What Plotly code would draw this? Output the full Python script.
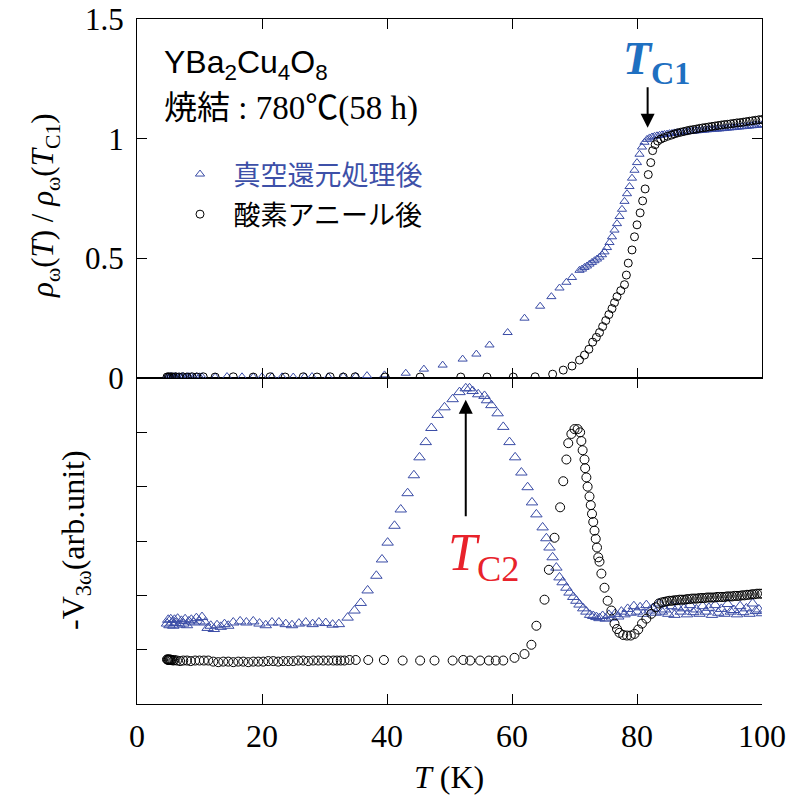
import plotly.graph_objects as go

# ---------------- data ----------------
# Top panel: rho_w(T)/rho_w(Tc1)
T_vac_top = [4.8, 5.0, 5.2, 5.4, 5.6, 5.8, 6.0, 6.2, 6.5, 6.8, 7.1, 7.4, 7.7, 8.0, 8.3, 8.7, 9.1, 9.5, 10.0,
             10.4, 12.5, 14.4, 16.8, 18.6, 20.0, 21.6, 23.2, 25.0, 26.8, 28.0, 30.6, 33.0, 35.0, 36.8,
             39.6, 43.0, 45.9, 48.9, 52.1, 54.3, 56.4, 59.3, 62.0, 64.5, 66.3, 67.6, 68.7, 69.6, 70.8,
             71.2, 71.6, 72.0, 72.4, 72.8, 73.2, 73.6, 74.0, 74.4, 74.8, 75.2, 75.6, 76.0, 76.4, 76.8,
             77.2, 77.6, 78.0, 78.4, 78.8, 79.2, 79.6, 80.0, 80.4, 80.8, 81.2, 81.6, 82.0, 82.4, 82.8,
             83.2, 83.6, 84.0, 84.4, 84.8, 85.2, 85.6, 86.0, 86.4, 86.8, 87.2, 87.6, 88.0, 88.4, 88.8,
             89.2, 89.6, 90.0, 90.4, 90.8, 91.2, 91.6, 92.0, 92.4, 92.8, 93.2, 93.6, 94.0, 94.4, 94.8,
             95.2, 95.6, 96.0, 96.4, 96.8, 97.2, 97.6, 98.0, 98.4, 98.8, 99.2, 99.6, 100.0]
R_vac_top = [0.004, 0.005, 0.004, 0.006, 0.005, 0.004, 0.005, 0.006, 0.004, 0.005, 0.005, 0.006, 0.004, 0.005,
             0.006, 0.005, 0.004, 0.006, 0.005,
             0.005, 0.004, 0.006, 0.005, 0.004, 0.005, 0.006, 0.005, 0.004, 0.005, 0.006, 0.005, 0.006, 0.007, 0.010,
             0.013, 0.020, 0.037, 0.054, 0.079, 0.100, 0.138, 0.190, 0.250, 0.300, 0.340, 0.376, 0.400, 0.420, 0.450,
             0.455, 0.462, 0.468, 0.476, 0.483, 0.490, 0.497, 0.505, 0.515, 0.527, 0.545, 0.566, 0.590, 0.618, 0.645,
             0.675, 0.705, 0.738, 0.770, 0.800, 0.835, 0.868, 0.900, 0.935, 0.965, 0.985, 0.997, 1.003, 1.007, 1.010,
             1.012, 1.014, 1.016, 1.018, 1.019, 1.021, 1.022, 1.024, 1.025, 1.026, 1.027, 1.028, 1.029, 1.030, 1.031,
             1.032, 1.033, 1.034, 1.035, 1.036, 1.037, 1.038, 1.039, 1.040, 1.040, 1.041, 1.042, 1.043, 1.044, 1.045,
             1.046, 1.047, 1.048, 1.049, 1.050, 1.051, 1.052, 1.053, 1.054, 1.055, 1.056, 1.057, 1.058]

T_oxy_top = [4.8, 5.0, 5.2, 5.5, 5.8, 6.2, 6.7, 7.3, 8.0, 8.8, 9.6, 10.6, 12.5, 15.4, 18.6, 21.3, 23.7, 26.6,
             28.8, 30.9, 33.0, 34.9, 39.7, 45.3, 51.8, 56.0, 60.2, 63.7, 66.5, 68.2, 69.6, 70.8, 71.6, 72.3,
             72.9, 73.5, 74.0, 74.5, 75.0, 75.5, 76.0, 76.4, 76.8, 77.4, 78.0, 78.3, 78.6, 79.2, 79.6, 80.0,
             80.5, 80.9, 81.3, 81.8, 82.2, 82.5, 82.9, 83.3, 83.8, 84.3, 84.9, 85.5, 86.0, 86.5, 87.0, 87.5,
             88.0, 88.5, 89.0, 89.5, 90.0, 90.5, 91.0, 91.5, 92.0, 92.5, 93.0, 93.5, 94.0, 94.5, 95.0, 95.5,
             96.0, 96.5, 97.0, 97.5, 98.0, 98.5, 99.0, 99.5, 100.0]
R_oxy_top = [0.004, 0.005, 0.004, 0.005, 0.004, 0.005, 0.004, 0.005, 0.004, 0.005, 0.004, 0.005, 0.004, 0.005,
             0.004, 0.005, 0.004, 0.005, 0.004, 0.005, 0.004, 0.005, 0.004, 0.004, 0.004, 0.004, 0.004, 0.005,
             0.016, 0.033, 0.050, 0.075, 0.096, 0.120, 0.150, 0.170, 0.190, 0.215, 0.240, 0.265, 0.290, 0.315,
             0.340, 0.365, 0.390, 0.430, 0.480, 0.535, 0.590, 0.640, 0.690, 0.740, 0.790, 0.850, 0.900, 0.950,
             0.975, 0.990, 0.998, 1.004, 1.010, 1.015, 1.020, 1.024, 1.027, 1.030, 1.033, 1.036, 1.038, 1.040,
             1.043, 1.045, 1.047, 1.049, 1.051, 1.053, 1.055, 1.057, 1.059, 1.060, 1.062, 1.064, 1.066, 1.067,
             1.069, 1.071, 1.073, 1.075, 1.077, 1.079, 1.080]

# Bottom panel: -V3w (arb. unit)
T_vac_bot = [4.8, 5.0, 5.2, 5.4, 5.6, 5.8, 6.0, 6.2, 6.5, 6.8, 7.1, 7.4, 7.7, 8.0, 8.3, 8.7, 9.1, 9.5, 10.0,
             10.4, 10.9, 11.3, 11.8, 12.3, 12.8, 13.4, 14.0, 14.6, 15.4, 16.5, 17.5, 18.6, 19.6, 20.6, 21.6,
             22.7, 23.8, 24.8, 25.9, 27.0, 28.1, 29.1, 30.2, 31.3, 32.3, 33.7, 34.8, 35.8, 36.9, 38.3, 39.2,
             40.1, 41.2, 42.2, 43.3, 44.3, 45.2, 46.2, 47.1, 48.1, 49.2, 50.5, 51.6, 52.6, 53.2, 53.7, 54.6,
             55.6, 56.0, 56.7, 57.7, 58.6, 59.6, 60.5, 61.5, 62.5, 63.2, 63.9, 64.9, 65.5, 66.0, 66.5, 67.1,
             67.6, 68.1, 68.7, 69.2, 69.8, 70.3, 70.8, 71.4, 71.9, 72.5, 73.0, 73.5, 74.0, 74.5, 75.0, 75.5,
             76.0, 76.5, 77.0, 77.5, 78.0, 78.5, 79.0, 79.5, 80.0, 80.5, 81.0, 81.5, 82.0, 82.5, 83.0, 83.5,
             84.0, 84.5, 85.0, 85.5, 86.0, 86.5, 87.0, 87.5, 88.0, 88.5, 89.0, 89.5, 90.0, 90.5, 91.0, 91.5,
             92.0, 92.5, 93.0, 93.5, 94.0, 94.5, 95.0, 95.5, 96.0, 96.5, 97.0, 97.5, 98.0, 98.5, 99.0, 99.5, 100.0]
V_vac_bot = [1.48, 1.55, 1.45, 1.56, 1.50, 1.44, 1.55, 1.49, 1.57, 1.46, 1.53, 1.48, 1.56, 1.45, 1.52, 1.55,
             1.50, 1.58, 1.52, 1.60, 1.50, 1.40, 1.44, 1.38, 1.45, 1.42, 1.47, 1.44, 1.50, 1.52, 1.50, 1.52,
             1.48, 1.45, 1.50, 1.50, 1.47, 1.45, 1.48, 1.50, 1.47, 1.50, 1.49, 1.46, 1.47, 1.59, 1.72, 1.86,
             2.09, 2.36, 2.66, 2.97, 3.28, 3.58, 3.88, 4.21, 4.54, 4.82, 5.08, 5.32, 5.46, 5.61, 5.74, 5.81,
             5.81, 5.76, 5.70, 5.67, 5.59, 5.50, 5.35, 5.10, 4.82, 4.54, 4.26, 3.99, 3.71, 3.49, 3.25, 3.05,
             2.88, 2.70, 2.51, 2.33, 2.24, 2.14, 2.05, 1.97, 1.90, 1.83, 1.76, 1.70, 1.64, 1.62, 1.60, 1.58,
             1.62, 1.57, 1.64, 1.59, 1.66, 1.61, 1.70, 1.65, 1.75, 1.68, 1.80, 1.70, 1.78, 1.66, 1.82, 1.72,
             1.76, 1.68, 1.85, 1.70, 1.74, 1.66, 1.80, 1.64, 1.78, 1.70, 1.76, 1.65, 1.82, 1.69, 1.74, 1.66,
             1.80, 1.70, 1.77, 1.64, 1.82, 1.68, 1.75, 1.66, 1.84, 1.70, 1.73, 1.65, 1.80, 1.69, 1.76, 1.66,
             1.85, 1.71, 1.74, 1.67]

T_oxy_bot = [4.8, 4.9, 5.0, 5.1, 5.2, 5.3, 5.4, 5.6, 5.8, 6.0, 6.4, 6.9, 7.4, 8.0, 8.6, 9.3, 10.0, 10.7, 11.4,
             12.2, 13.0, 13.8, 14.6, 15.4, 16.2, 17.0, 17.8, 18.6, 19.4, 20.2, 21.0, 21.8, 22.6, 23.4, 24.2,
             25.0, 25.8, 26.6, 27.4, 28.2, 29.0, 29.8, 30.6, 31.4, 32.0, 32.6, 33.2, 34.0, 35.0, 37.0, 39.5,
             42.5, 45.3, 47.6, 50.5, 52.2, 53.3, 54.9, 56.3, 57.4, 58.6, 60.4, 62.0, 63.1, 63.9, 65.2, 65.9,
             66.8, 67.7, 68.2, 68.7, 69.0, 69.5, 70.0, 70.5, 70.9, 71.1, 71.3, 71.6, 71.7, 71.9, 72.1, 72.4,
             72.6, 72.8, 73.0, 73.2, 73.4, 73.6, 73.8, 74.0, 74.3, 74.8, 75.3, 75.9, 76.4, 76.8, 77.2, 77.8,
             78.4, 79.0, 79.6, 80.2, 80.8, 81.5, 82.3, 83.0, 83.5, 84.0, 84.4, 84.8, 85.2, 85.6, 86.0, 86.4,
             86.8, 87.2, 87.6, 88.0, 88.4, 88.8, 89.2, 89.6, 90.0, 90.4, 90.8, 91.2, 91.6, 92.0, 92.4, 92.8,
             93.2, 93.6, 94.0, 94.4, 94.8, 95.2, 95.6, 96.0, 96.4, 96.8, 97.2, 97.6, 98.0, 98.4, 98.8, 99.2,
             99.6, 100.0]
V_oxy_bot = [0.82, 0.82, 0.81, 0.82, 0.81, 0.82, 0.81, 0.81, 0.80, 0.81, 0.80, 0.79, 0.80, 0.80, 0.79, 0.80,
             0.80, 0.80, 0.80, 0.78, 0.77, 0.78, 0.78, 0.77, 0.78, 0.78, 0.77, 0.78, 0.78, 0.78, 0.79, 0.79,
             0.78, 0.79, 0.79, 0.79, 0.80, 0.80, 0.79, 0.80, 0.80, 0.80, 0.80, 0.80, 0.80, 0.80, 0.80, 0.81,
             0.81, 0.81, 0.81, 0.80, 0.80, 0.80, 0.80, 0.81, 0.80, 0.80, 0.80, 0.80, 0.80, 0.85, 0.92, 1.09,
             1.44, 1.92, 2.47, 3.06, 3.62, 4.10, 4.50, 4.80, 4.97, 5.06, 5.06, 5.00, 4.84, 4.67, 4.50, 4.34,
             4.17, 4.00, 3.82, 3.66, 3.50, 3.35, 3.19, 3.04, 2.88, 2.70, 2.62, 2.40, 2.14, 1.90, 1.72, 1.48,
             1.38, 1.31, 1.27, 1.26, 1.26, 1.29, 1.37, 1.48, 1.57, 1.66, 1.78, 1.85, 1.87, 1.88, 1.89, 1.90,
             1.90, 1.91, 1.91, 1.92, 1.92, 1.92, 1.93, 1.93, 1.94, 1.94, 1.94, 1.95, 1.95, 1.95, 1.96, 1.96,
             1.96, 1.96, 1.97, 1.97, 1.97, 1.97, 1.98, 1.98, 1.98, 1.99, 1.99, 1.99, 2.00, 2.00, 2.01, 2.01,
             2.02, 2.02, 2.03, 2.03, 2.03]

x_ticks = [0, 20, 40, 60, 80, 100]
x_ticktext = ["0", "20", "40", "60", "80", "100"]
rho_ticks = [0, 0.5, 1, 1.5]
rho_ticktext = ["0", "0.5", "1", "1.5"]

name_vac = "真空還元処理後"
name_oxy = "酸素アニール後"

# ---------------- style ----------------
BLUE = "#3a4ca6"
SERIF = "Liberation Serif, Noto Sans CJK JP"
SANS = "Liberation Sans"
CJK = "Noto Sans CJK JP"

W, H = 789, 800
ML, MR, MT, MB = 137, 27, 19, 96
plot_h = H - MT - MB
split = 1 - (378 - MT) / plot_h

fig = go.Figure()

fig.add_trace(go.Scatter(
    x=T_vac_top, y=R_vac_top, xaxis="x2", yaxis="y2", mode="markers",
    name="<span style='color:#3d50a8'>\u2002" + name_vac + "</span>",
    legendgroup="a",
    marker=dict(symbol="triangle-up-open", size=8, color=BLUE, line=dict(width=1, color=BLUE))))
fig.add_trace(go.Scatter(
    x=T_oxy_top, y=R_oxy_top, xaxis="x2", yaxis="y2", mode="markers",
    name="\u2002" + name_oxy, legendgroup="b",
    marker=dict(symbol="circle-open", size=8, color="black", line=dict(width=1, color="black"))))
fig.add_trace(go.Scatter(
    x=T_vac_bot, y=V_vac_bot, xaxis="x", yaxis="y", mode="markers", showlegend=False,
    marker=dict(symbol="triangle-up-open", size=10, color=BLUE, line=dict(width=1, color=BLUE))))
fig.add_trace(go.Scatter(
    x=T_oxy_bot, y=V_oxy_bot, xaxis="x", yaxis="y", mode="markers", showlegend=False,
    marker=dict(symbol="circle-open", size=9, color="black", line=dict(width=1, color="black"))))

axis_common = dict(showline=True, linecolor="black", linewidth=1.3, ticks="inside",
                   tickcolor="black", tickwidth=1, ticklen=10, showgrid=False, zeroline=False,
                   automargin=False)

fig.update_layout(
    width=W, height=H,
    margin=dict(l=ML, r=MR, t=MT, b=MB, autoexpand=False),
    paper_bgcolor="white", plot_bgcolor="white",
    showlegend=True,
    legend=dict(x=(180 - ML) / (W - ML - MR), y=(H - MB - 150) / plot_h, xanchor="left", yanchor="top",
                bgcolor="rgba(0,0,0,0)", font=dict(family=CJK, size=27, color="black"),
                traceorder="grouped", tracegroupgap=2),
    xaxis=dict(domain=[0, 1], range=[0, 100], anchor="y", tickvals=x_ticks, ticktext=x_ticktext,
               mirror="ticks", tickfont=dict(family=SERIF, size=32, color="black"),
               ticklabelstandoff=3, **axis_common),
    xaxis2=dict(domain=[0, 1], range=[0, 100], anchor="y2", matches="x", tickvals=x_ticks,
                showticklabels=False, mirror="ticks", **axis_common),
    yaxis=dict(domain=[0, split], range=[0, 6], anchor="x", tickvals=[1, 2, 3, 4, 5],
               showticklabels=False, **axis_common),
    yaxis3=dict(domain=[0, split], range=[0, 4], anchor="x", overlaying="y", side="right",
                tickvals=[1, 2, 3], showticklabels=False, **axis_common),
    yaxis2=dict(domain=[split, 1], range=[0, 1.5], anchor="x2", tickvals=rho_ticks, ticktext=rho_ticktext,
                mirror="ticks", tickfont=dict(family=SERIF, size=31, color="black"),
                ticklabelstandoff=6, **axis_common),
)

def px_x(px):
    return (px - ML) / (W - ML - MR)

def px_y(py):
    return (H - MB - py) / plot_h

ann = []
ann.append(dict(text="YBa<sub>2</sub>Cu<sub>4</sub>O<sub>8</sub>", xref="paper", yref="paper",
                x=px_x(162), y=px_y(64), xanchor="left", yanchor="middle", showarrow=False,
                font=dict(family=SANS, size=32, color="black")))
ann.append(dict(text="焼結 : 780℃(58 h)", xref="paper", yref="paper",
                x=px_x(162), y=px_y(108), xanchor="left", yanchor="middle", showarrow=False,
                font=dict(family=SERIF, size=33, color="black")))
ann.append(dict(text="<b><i>T</i></b><sub><b>C1</b></sub>", xref="paper", yref="paper",
                x=px_x(656), y=px_y(62), xanchor="center", yanchor="middle", showarrow=False,
                font=dict(family="Liberation Serif", size=46, color="#1f70c1")))
ann.append(dict(text="", x=81.7, y=1.046, xref="x2", yref="y2", showarrow=True,
                ax=0, ay=-42, arrowhead=2, arrowsize=1.4, arrowwidth=2, arrowcolor="black", standoff=0))
ann.append(dict(text="<i>T</i><sub>C2</sub>", xref="paper", yref="paper",
                x=px_x(483), y=px_y(556), xanchor="center", yanchor="middle", showarrow=False,
                font=dict(family="Liberation Serif", size=52, color="#e8222b")))
ann.append(dict(text="", x=52.6, y=5.6, xref="x", yref="y", showarrow=True,
                ax=0, ay=118, arrowhead=2, arrowsize=1.4, arrowwidth=2, arrowcolor="black", standoff=0))
ann.append(dict(text="<i>ρ</i><sub>ω</sub>(<i>T</i>) / <i>ρ</i><sub>ω</sub>(<i>T</i><sub>C1</sub>)",
                xref="paper", yref="paper", x=px_x(45), y=px_y(206), textangle=-90,
                xanchor="center", yanchor="middle", showarrow=False,
                font=dict(family="Liberation Serif", size=31, color="black")))
ann.append(dict(text="-V<sub>3ω</sub>(arb.unit)",
                xref="paper", yref="paper", x=px_x(75), y=px_y(540), textangle=-90,
                xanchor="center", yanchor="middle", showarrow=False,
                font=dict(family="Liberation Serif", size=32, color="black")))
ann.append(dict(text="<i>T</i> (K)", xref="paper", yref="paper", x=px_x(449), y=px_y(777),
                xanchor="center", yanchor="middle", showarrow=False,
                font=dict(family="Liberation Serif", size=32, color="black")))
fig.update_layout(annotations=ann)

fig.write_html("out.html", config={"displayModeBar": False})

# remove the browser's default page margin so the figure sits at the window origin
with open("out.html", "r", encoding="utf-8") as f:
    html = f.read()
html = html.replace("<head>", "<head><style>html,body{margin:0;padding:0;overflow:hidden;}</style>", 1)
with open("out.html", "w", encoding="utf-8") as f:
    f.write(html)
